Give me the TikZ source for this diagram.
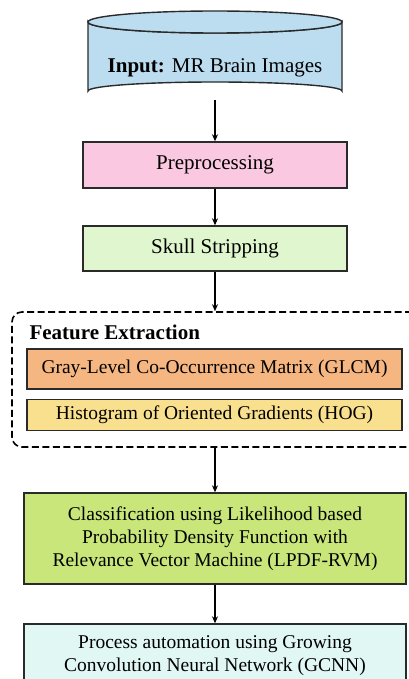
\documentclass[tikz,border=0pt]{standalone}
\usepackage{fontspec}
\setmainfont{Liberation Serif}
\usetikzlibrary{arrows.meta}
\definecolor{cylfill}{HTML}{BCDDF0}
\definecolor{prefill}{HTML}{FAC8E0}
\definecolor{skullfill}{HTML}{E0F6CE}
\definecolor{glcmfill}{HTML}{F6B682}
\definecolor{hogfill}{HTML}{F8E08E}
\definecolor{clsfill}{HTML}{C8E67A}
\definecolor{gcnnfill}{HTML}{E0F7F4}
\definecolor{edge}{HTML}{2A2A2A}
\tikzset{
  box/.style={draw=edge, line width=1.4pt, inner sep=0pt, align=center},
  big/.style={font=\fontsize{21}{25}\selectfont},
  small/.style={font=\fontsize{19.5}{23}\selectfont},
  arr/.style={draw=black, line width=1.5pt, -{Stealth[length=7pt,width=6pt]}},
}
\begin{document}
\begin{tikzpicture}[x=1pt,y=-1pt]
\useasboundingbox (0,0) rectangle (408,679);
\fill[white] (0,0) rectangle (408,679);
% cylinder
\draw[edge, line width=1.4pt, fill=cylfill]
  (88,22) -- (88,91) arc[start angle=180, end angle=360, x radius=127, y radius=9]
  -- (342,22) arc[start angle=0, end angle=180, x radius=127, y radius=11] -- cycle;
\draw[edge, line width=1.4pt, fill=cylfill] (215,22) ellipse[x radius=127, y radius=11];
\node[big] (input) at (215,68) {\textbf{Input:} MR Brain Images};
\coordinate (inbot) at (215,100);
% boxes
\node[box, big, fill=prefill, minimum width=264pt, minimum height=46pt] (pre) at (215,165) {Preprocessing};
\node[box, big, fill=skullfill, minimum width=264pt, minimum height=45pt] (skull) at (215,248.5) {Skull Stripping};
\node[draw=black, line width=1.6pt, dash pattern=on 7pt off 3.5pt, rounded corners=10pt, minimum width=410pt, minimum height=135pt, inner sep=0pt] (fe) at (217,379.5) {};
\node[anchor=west, font=\fontsize{21}{25}\selectfont\bfseries] (fetitle) at (26,332) {Feature Extraction};
\node[box, small, fill=glcmfill, minimum width=375pt, minimum height=40pt] (glcm) at (214.5,369) {Gray-Level Co-Occurrence Matrix (GLCM)};
\node[box, small, fill=hogfill, minimum width=375pt, minimum height=31pt] (hog) at (214.5,415) {Histogram of Oriented Gradients (HOG)};
\node[box, small, fill=clsfill, minimum width=382pt, minimum height=91pt] (cls) at (215,538.5) {Classification using Likelihood based\\Probability Density Function with\\Relevance Vector Machine (LPDF-RVM)};
\node[box, small, fill=gcnnfill, minimum width=382pt, minimum height=64pt] (gcnn) at (215,656) {Process automation using Growing\\Convolution Neural Network (GCNN)};
% arrows
\draw[arr] (inbot) -- (pre.north);
\draw[arr] (pre.south) -- (skull.north);
\draw[arr] (skull.south) -- (skull.south |- fe.north);
\draw[arr] (cls.north |- fe.south) -- (cls.north);
\draw[arr] (cls.south) -- (gcnn.north);
\end{tikzpicture}
\end{document}
